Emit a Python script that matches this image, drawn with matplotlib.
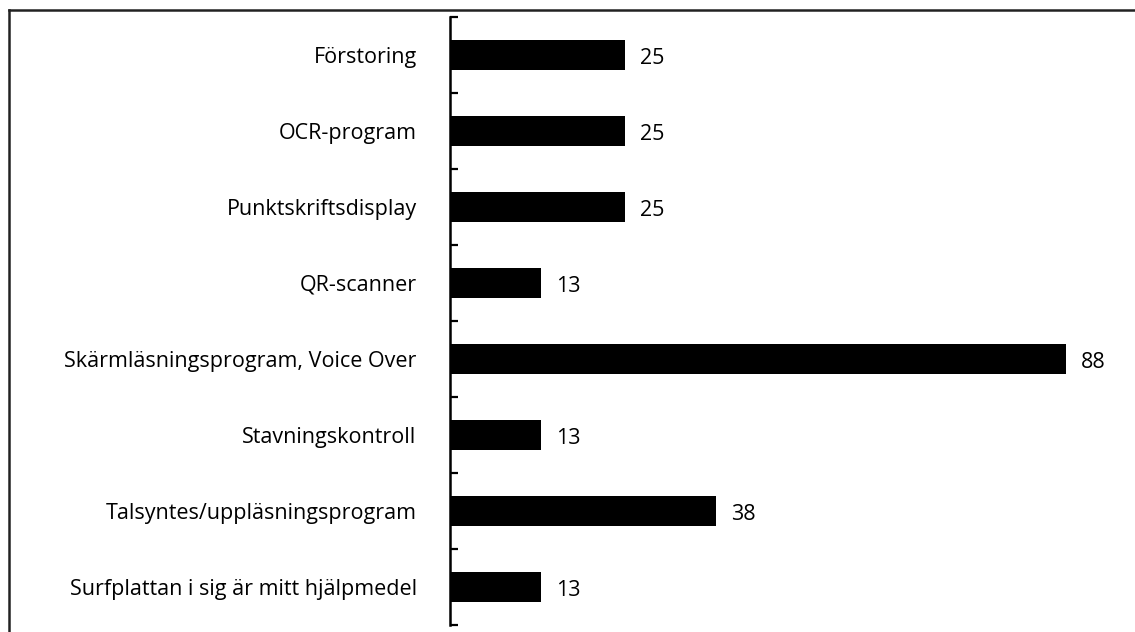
import matplotlib
matplotlib.use("Agg")
import matplotlib.pyplot as plt
from matplotlib.lines import Line2D
import numpy as np

# kategorier och andelar (%)
categories = ["Förstoring", "OCR-program", "Punktskriftsdisplay", "QR-scanner",
              "Skärmläsningsprogram, Voice Over", "Stavningskontroll",
              "Talsyntes/uppläsningsprogram", "Surfplattan i sig är mitt hjälpmedel"]
values = [25, 25, 25, 13, 88, 13, 38, 13]

plt.rcParams['font.family'] = ['Open Sans', 'DejaVu Sans']

W, H = 1135, 632
fig = plt.figure(figsize=(W / 100, H / 100), dpi=100)
ax = fig.add_axes([450 / W, 1 - 625 / H, (1110 - 450) / W, (625 - 17) / H])

y = np.arange(len(categories))
ax.barh(y, values, height=0.4, color='black')
ax.set_ylim(len(categories) - 0.5, -0.5)
ax.set_xlim(0, 94.3)

for yi, v in zip(y, values):
    ax.annotate(str(v), (v, yi), xytext=(11, -1), textcoords='offset points',
                va='center_baseline', ha='left', fontsize=15.5)

ax.set_yticks(y)
ax.set_yticklabels(categories, fontsize=15.5)
ax.set_yticks(np.arange(len(categories) + 1) - 0.5, minor=True)
ax.tick_params(axis='y', which='major', length=0, pad=24)
ax.tick_params(axis='y', which='minor', direction='in', length=6, width=1.6)
for lab in ax.get_yticklabels():
    lab.set_va('center_baseline')
ax.set_xticks([])
for s in ['top', 'right', 'bottom']:
    ax.spines[s].set_visible(False)
ax.spines['left'].set_linewidth(1.8)

# ram runt diagrammet (bara vänster och överkant syns)
x0 = 8.5 / W
y0 = 1 - 9.5 / H
fig.add_artist(Line2D([x0, x0], [0, y0], transform=fig.transFigure, color='#222222', lw=1.8))
fig.add_artist(Line2D([x0, 1], [y0, y0], transform=fig.transFigure, color='#222222', lw=1.8))

fig.savefig("out.png", dpi=100)
